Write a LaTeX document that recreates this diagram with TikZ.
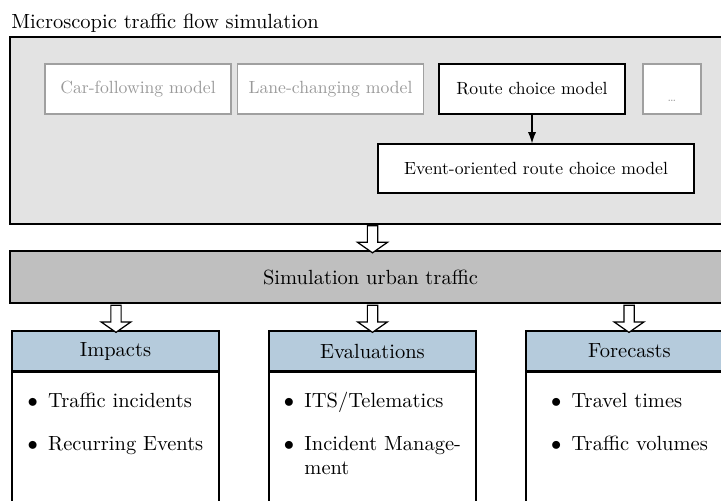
\documentclass[tikz,border=0pt]{standalone}
\usepackage{graphicx}
\usetikzlibrary{shapes.arrows,arrows.meta,calc}
\definecolor{outerfill}{HTML}{E3E3E3}
\definecolor{simfill}{HTML}{BFBFBF}
\definecolor{headfill}{HTML}{B5CBDC}
\definecolor{faintline}{HTML}{A0A0A0}
\definecolor{fainttext}{HTML}{9A9A9A}
\newcommand\smtext[1]{\scalebox{0.86}{#1}}
\begin{document}
\begin{tikzpicture}[x=0.4878pt,y=-0.4878pt,
  outerbox/.style={draw=black, fill=outerfill, line width=0.6pt, minimum width=351.7pt, minimum height=91.2pt, inner sep=0pt},
  modelbox/.style={draw=black, fill=white, line width=0.6pt, minimum width=90.7pt, minimum height=24.4pt, inner sep=0pt},
  fadedbox/.style={modelbox, draw=faintline, text=fainttext},
  simbox/.style={draw=black, fill=simfill, line width=0.6pt, minimum width=351.7pt, minimum height=25.4pt, inner sep=0pt},
  headbox/.style={draw=black, fill=headfill, line width=0.6pt, minimum width=101pt, minimum height=19.5pt, inner sep=0pt},
  bodybox/.style={draw=black, fill=white, line width=0.6pt, minimum width=101pt, minimum height=80pt, inner sep=0pt, anchor=north},
  bigarrow/.style={single arrow, draw=black, fill=white, line width=0.6pt, inner sep=2.2pt, minimum height=13.2pt, minimum width=0pt, single arrow head extend=4.8pt, single arrow tip angle=110, single arrow head indent=0pt, rotate=-90},
  itemlist/.style={anchor=north, inner sep=0pt},
  link/.style={-{Latex[length=5.5pt,width=4pt]}, line width=0.6pt}]
\useasboundingbox (0,0) rectangle (721,500);
\clip (0,0) rectangle (721,500);

\node[anchor=base west, inner sep=0pt] (title) at (11,28) {Microscopic traffic flow simulation};
\node[outerbox] (outer) at (370.5,130.5) {};

\node[fadedbox] (car) at (138,89) {\smtext{Car-following model}};
\node[fadedbox] (lane) at (330.5,89) {\smtext{Lane-changing model}};
\node[modelbox] (route) at (532,89) {\smtext{Route choice model}};
\node[fadedbox, minimum width=28.3pt, text height=12.5pt, text depth=0pt, font=\fontsize{5.5}{6.5}\selectfont] (dots) at (672,89) {\ldots};
\node[modelbox, minimum width=154.2pt, minimum height=23.9pt] (event) at (536,168.5) {\smtext{Event-oriented route choice model}};
\draw[link] (route.south) -- (route.south |- event.north);

\node[simbox] (sim) at (370.5,277) {Simulation urban traffic};

\coordinate (c0) at (372.5,0);
\coordinate (c1) at (116,0);
\coordinate (c2) at (372.5,0);
\coordinate (c3) at (629,0);

\path (outer.south -| c0) -- (sim.north -| c0) node[midway, bigarrow] (ar0) {};

\node[headbox] (h1) at (115.5,351) {Impacts};
\node[headbox] (h2) at (372.5,351) {Evaluations};
\node[headbox] (h3) at (629.5,351) {Forecasts};
\node[bodybox] (b1) at (h1.south) {};
\node[bodybox] (b2) at (h2.south) {};
\node[bodybox] (b3) at (h3.south) {};

\path (sim.south -| c1) -- (h1.north -| c1) node[midway, bigarrow] (ar1) {};
\path (sim.south -| c2) -- (h2.north -| c2) node[midway, bigarrow] (ar2) {};
\path (sim.south -| c3) -- (h3.north -| c3) node[midway, bigarrow] (ar3) {};

\node[itemlist] (l1) at ($(b1.north)+(0,17.8)$) {\begin{tabular}{@{}l@{\hspace{5pt}}l@{}}$\bullet$ & Traffic incidents\\[9pt] $\bullet$ & Recurring Events\end{tabular}};
\node[itemlist] (l2) at ($(b2.north)+(0,17.8)$) {\begin{tabular}{@{}l@{\hspace{5pt}}l@{}}$\bullet$ & ITS/Telematics\\[9pt] $\bullet$ & Incident Manage-\\ & ment\end{tabular}};
\node[itemlist] (l3) at ($(b3.north)+(0,17.8)$) {\begin{tabular}{@{}l@{\hspace{5pt}}l@{}}$\bullet$ & Travel times\\[9pt] $\bullet$ & Traffic volumes\end{tabular}};
\end{tikzpicture}
\end{document}
